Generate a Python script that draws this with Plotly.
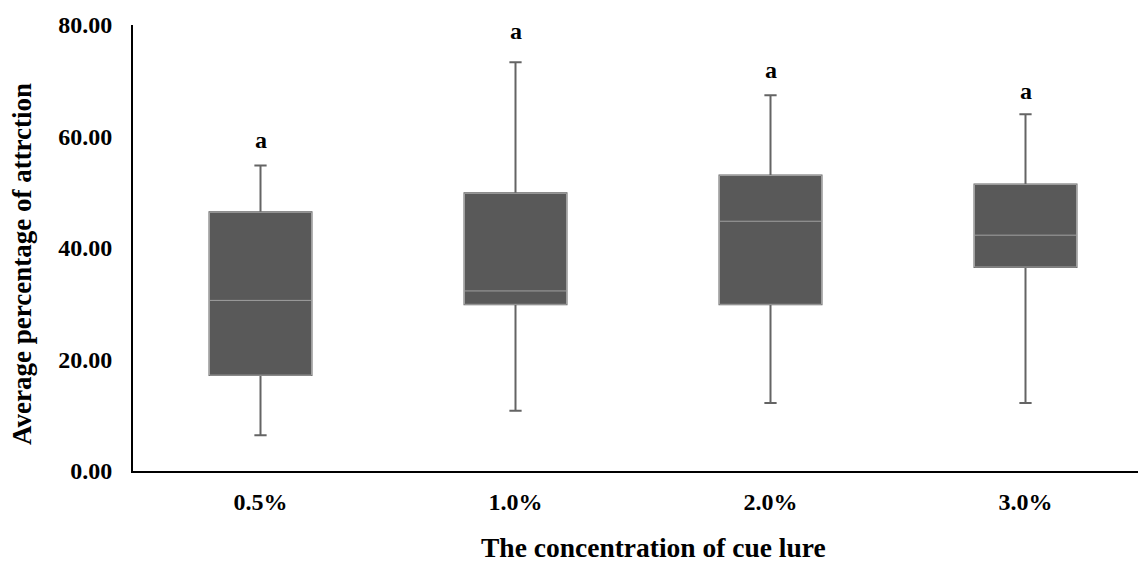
import plotly.graph_objects as go

categories = ["0.5%", "1.0%", "2.0%", "3.0%"]
lower_whisker = [6.4, 10.8, 12.2, 12.2]
q1 = [17.2, 29.9, 29.9, 36.6]
median = [30.6, 32.3, 44.8, 42.3]
q3 = [46.4, 49.8, 53.0, 51.4]
upper_whisker = [54.8, 73.3, 67.4, 64.0]
letters = ["a", "a", "a", "a"]
letter_y = [59.3, 79.0, 71.9, 68.1]

FONT = "Liberation Serif, Times New Roman, serif"

W, H = 1146, 562
L, T, B = 125, 17, 99
plot_w = W - L
plot_h = H - T - B

fig = go.Figure()
# whiskers + caps
fig.add_trace(go.Box(
    x=categories, q1=q1, median=median, q3=q3,
    lowerfence=lower_whisker, upperfence=upper_whisker,
    fillcolor="#595959", line=dict(color="#646464", width=2),
    whiskerwidth=0.12, width=0.4, boxpoints=False, showlegend=False,
    hoverinfo="skip",
))
# box body with light edge and median
fig.add_trace(go.Box(
    x=categories, q1=q1, median=median, q3=q3,
    lowerfence=q1, upperfence=q3,
    fillcolor="#595959", line=dict(color="#a0a0a0", width=1),
    whiskerwidth=0, width=0.4, boxpoints=False, showlegend=False,
))

for c, t, yv in zip(categories, letters, letter_y):
    fig.add_annotation(x=c, y=yv, xref="x", yref="y", text=f"<b>{t}</b>",
                       showarrow=False, font=dict(family=FONT, size=24, color="black"))

fig.add_annotation(x=(645 - L) / plot_w, y=(T + plot_h - 539) / plot_h, xref="paper", yref="paper",
                   text="<b>The concentration of cue lure</b>",
                   showarrow=False, xanchor="center", yanchor="middle",
                   font=dict(family=FONT, size=27.5, color="black"))
fig.add_annotation(x=(14 - L) / plot_w, y=(T + plot_h - 256) / plot_h, xref="paper", yref="paper",
                   text="<b>Average percentage of attrction</b>", textangle=-90,
                   showarrow=False, xanchor="center", yanchor="middle",
                   font=dict(family=FONT, size=27, color="black"))

fig.update_layout(
    width=W, height=H,
    margin=dict(l=L, r=0, t=T, b=B),
    paper_bgcolor="white", plot_bgcolor="white",
    boxmode="overlay", showlegend=False,
    font=dict(family=FONT, size=24, color="black"),
)

fig.update_xaxes(
    type="category", range=[-0.5, -0.5 + plot_w / 255],
    showline=True, linecolor="black", linewidth=2, ticks="",
    showgrid=False, zeroline=False,
    tickfont=dict(family=FONT, size=24, color="black"),
    ticklabelstandoff=8,
    tickprefix="<b>", ticksuffix="</b>",
)
fig.update_yaxes(
    range=[0, 80], dtick=20, tickformat=".2f",
    showline=True, linecolor="black", linewidth=2, ticks="",
    showgrid=False, zeroline=False,
    tickfont=dict(family=FONT, size=24, color="black"),
    ticklabelstandoff=14,
    tickprefix="<b>", ticksuffix="</b>",
)

fig.write_html("out.html")
